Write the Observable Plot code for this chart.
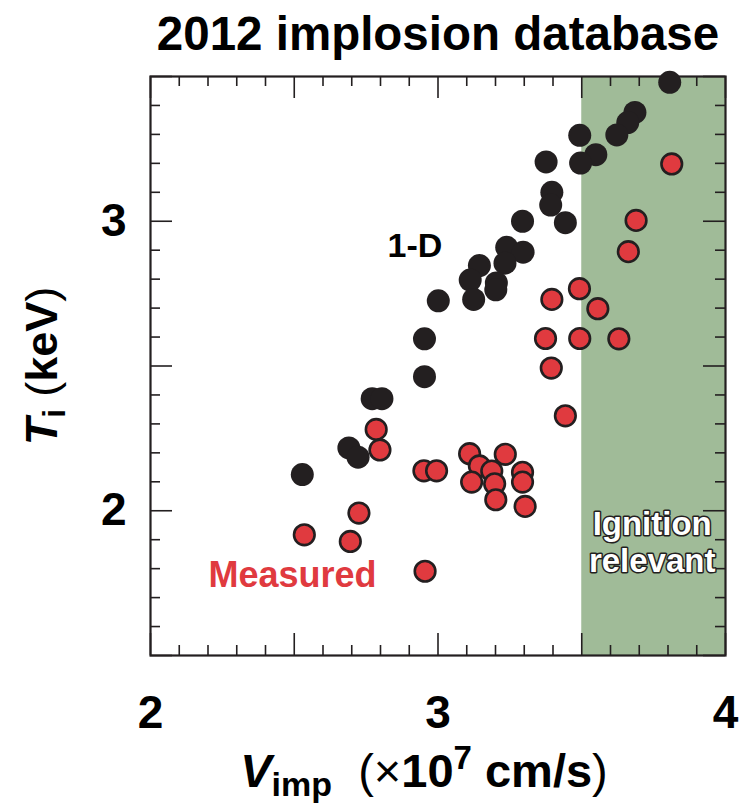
<!DOCTYPE html>
<html><head><meta charset="utf-8">
<script src="https://cdn.jsdelivr.net/npm/d3@7"></script>
<script src="https://cdn.jsdelivr.net/npm/@observablehq/plot@0.6"></script>
<style>body{margin:0;background:#fff} svg{display:block}</style>
</head><body><div id="chart"></div>
<script>
// 1-D simulated ion temperatures (keV) vs implosion velocity (x10^7 cm/s)
const vOneD = [3.806, 3.685, 3.660, 3.622, 3.493, 3.549, 3.496, 3.376, 3.396, 3.392, 3.443, 3.294, 3.239, 3.296,
               3.233, 3.144, 3.112, 3.203, 3.201, 3.001, 3.124, 2.953, 2.953, 2.771, 2.805, 2.690, 2.722, 2.528];
const tOneD = [3.480, 3.376, 3.341, 3.298, 3.297, 3.230, 3.201, 3.205, 3.100, 3.056, 2.995, 3.000, 2.910, 2.893,
               2.855, 2.847, 2.797, 2.787, 2.763, 2.725, 2.730, 2.594, 2.463, 2.387, 2.387, 2.217, 2.185, 2.125];
// Measured ion temperatures
const vMeasured = [3.813, 3.689, 3.662, 3.492, 3.396, 3.556, 3.374, 3.493, 3.629, 3.394, 3.443, 2.785, 2.798, 3.110, 3.234,
                   2.951, 2.995, 3.144, 3.187, 3.294, 3.117, 3.197, 3.294, 3.201, 3.303, 2.725, 2.535, 2.695, 2.955];
const tMeasured = [3.198, 3.003, 2.895, 2.767, 2.730, 2.698, 2.595, 2.595, 2.594, 2.493, 2.328, 2.281, 2.210, 2.197, 2.195,
                   2.138, 2.138, 2.155, 2.137, 2.133, 2.099, 2.093, 2.099, 2.038, 2.015, 1.992, 1.917, 1.894, 1.791];
const xTickLabels = [2, 3, 4];
const yTickLabels = [2, 3];
const xDomain = [2, 4];
const yDomain = [1.5, 3.5];
const xMajorTicks = [2, 2.5, 3, 3.5, 4];
const yMajorTicks = [1.5, 2, 2.5, 3, 3.5];
const ignitionRange = [3.5, 4];

const oneD = vOneD.map((v, i) => ({v, t: tOneD[i]}));
const measured = vMeasured.map((v, i) => ({v, t: tMeasured[i]}));
const xMinorTicks = d3.range(20, 41).map(d => d / 10).filter(d => !xMajorTicks.includes(d));
const yMinorTicks = d3.range(15, 36).map(d => d / 10).filter(d => !yMajorTicks.includes(d));

const W = 742, H = 810, mL = 150, mR = 17, mT = 76, mB = 155;
const pw = W - mL - mR, ph = H - mT - mB;
const ink = "#231f20", red = "#e03a3f", green = "#a0bb98";
const majLen = 22, minLen = 10;
const font = "'Liberation Sans', Arial, Helvetica, sans-serif";

const tickStyle = {stroke: ink, strokeWidth: 1.6};
const chart = Plot.plot({
  width: W, height: H,
  marginLeft: mL, marginRight: mR, marginTop: mT, marginBottom: mB,
  style: {fontFamily: font, background: "#fff"},
  x: {domain: xDomain, label: null},
  y: {domain: yDomain, label: null},
  marks: [
    Plot.rect([ignitionRange], {x1: d => d[0], x2: d => d[1], fill: green}),
    // inward minor/major ticks on all four sides
    Plot.ruleX(xMinorTicks, {x: d => d, insetTop: ph - minLen, ...tickStyle}),
    Plot.ruleX(xMinorTicks, {x: d => d, insetBottom: ph - minLen, ...tickStyle}),
    Plot.ruleX(xMajorTicks, {x: d => d, insetTop: ph - majLen, ...tickStyle}),
    Plot.ruleX(xMajorTicks, {x: d => d, insetBottom: ph - majLen, ...tickStyle}),
    Plot.ruleY(yMinorTicks, {y: d => d, insetRight: pw - minLen, ...tickStyle}),
    Plot.ruleY(yMinorTicks, {y: d => d, insetLeft: pw - minLen, ...tickStyle}),
    Plot.ruleY(yMajorTicks, {y: d => d, insetRight: pw - majLen, ...tickStyle}),
    Plot.ruleY(yMajorTicks, {y: d => d, insetLeft: pw - majLen, ...tickStyle}),
    Plot.frame({stroke: ink, strokeWidth: 2.2}),
    Plot.dot(oneD, {x: "v", y: "t", r: 11.5, fill: ink}),
    Plot.dot(measured, {x: "v", y: "t", r: 10.3, fill: red, stroke: ink, strokeWidth: 2.6}),
    Plot.text(["1-D"], {x: 2.92, y: 2.915, text: d => d, fontSize: 34, fontWeight: "bold", fill: "#000"}),
    Plot.text(["Measured"], {x: 2.494, y: 1.776, text: d => d, fontSize: 36, fontWeight: "bold", fill: red}),
    Plot.text(["Ignition\nrelevant"], {x: 3.745, y: 1.893, text: d => d, fontSize: 33, fontWeight: "bold",
      lineHeight: 1.13, fill: "#fff", stroke: ink, strokeWidth: 3}),
    Plot.axisX(xTickLabels, {tickSize: 0, tickPadding: 40, fontSize: 46, fontWeight: "bold", label: null, tickFormat: d => d}),
    Plot.axisY(yTickLabels, {tickSize: 0, tickPadding: 24, fontSize: 46, fontWeight: "bold", label: null, tickFormat: d => d})
  ]
});
document.getElementById("chart").appendChild(chart);

const svg = d3.select(chart);
svg.append("text").attr("x", 438).attr("y", 50).attr("text-anchor", "middle")
  .attr("font-family", font).attr("font-size", 47.5).attr("font-weight", "bold").attr("fill", "#000")
  .text("2012 implosion database");

const xl = svg.append("text").attr("x", 424).attr("y", 787).attr("text-anchor", "middle")
  .attr("font-family", font).attr("font-size", 47).attr("font-weight", "bold").attr("fill", "#000");
xl.append("tspan").attr("font-style", "italic").text("V");
xl.append("tspan").attr("font-size", 34).attr("dy", 9).text("imp");
xl.append("tspan").attr("dy", -9).attr("font-weight", "normal").text("  (\u00d7");
xl.append("tspan").text("10");
xl.append("tspan").attr("font-size", 33).attr("dy", -18).text("7");
xl.append("tspan").attr("dy", 18).text(" cm/s");
xl.append("tspan").attr("font-weight", "normal").text(")");

const yl = svg.append("text").attr("transform", "translate(57,366) rotate(-90)").attr("text-anchor", "middle")
  .attr("font-family", font).attr("font-size", 45).attr("font-weight", "bold").attr("fill", "#000");
yl.append("tspan").attr("font-style", "italic").text("T");
yl.append("tspan").attr("font-size", 31).attr("dy", 8).text("i");
yl.append("tspan").attr("dy", -8).attr("font-weight", "normal").text(" (");
yl.append("tspan").text("keV");
yl.append("tspan").attr("font-weight", "normal").text(")");
</script>
</body></html>
